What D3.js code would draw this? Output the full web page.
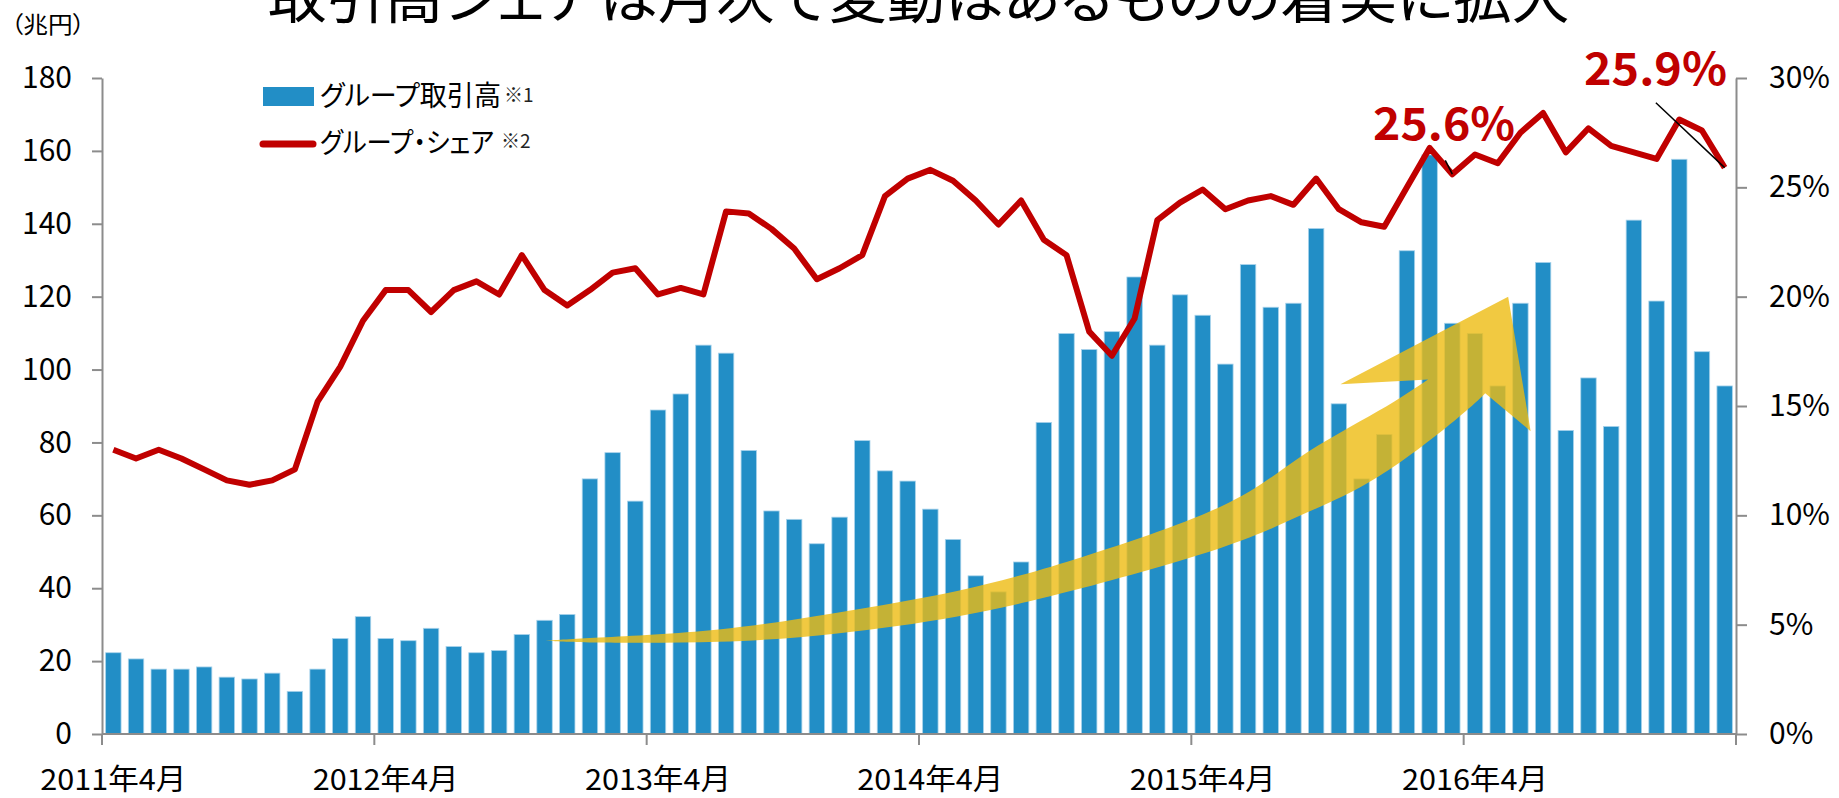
<!DOCTYPE html>
<html>
<head>
<meta charset="utf-8">
<script src="https://cdn.jsdelivr.net/npm/d3@7"></script>
<style>
  body { margin: 0; background: #fff; }
  svg text { font-family: "Noto Sans CJK JP", "Noto Sans", sans-serif; font-feature-settings: "palt"; }
</style>
</head>
<body>
<div id="vis"></div>
<script>
// monthly data, 2011-04 .. 2017-03
var months = d3.timeMonths(new Date(2011, 3, 1), new Date(2017, 3, 1));

// group trading volume (兆円)
var volume = [
  22.3, 20.6, 17.8, 17.8, 18.4, 15.6, 15.1, 16.7, 11.7, 17.8, 26.2, 32.2,
  26.2, 25.6, 29.0, 24.0, 22.3, 22.9, 27.3, 31.2, 32.8, 70.0, 77.2, 63.9,
  88.9, 93.3, 106.7, 104.5, 77.8, 61.2, 58.9, 52.2, 59.5, 80.5, 72.2, 69.4,
  61.7, 53.4, 43.4, 39.0, 47.2, 85.5, 109.9, 105.5, 110.4, 125.4, 106.7, 120.5,
  114.9, 101.5, 128.8, 117.1, 118.2, 138.7, 90.6, 70.0, 82.2, 132.6, 158.9, 112.7,
  109.9, 95.5, 118.2, 129.4, 83.3, 97.7, 84.4, 141.0, 118.8, 157.7, 104.9, 95.5
];

// group share (%)
var share = [
  13.0, 12.6, 13.0, 12.6, 12.1, 11.6, 11.4, 11.6, 12.1, 15.2, 16.8, 18.9,
  20.3, 20.3, 19.3, 20.3, 20.7, 20.1, 21.9, 20.3, 19.6, 20.3, 21.1, 21.3,
  20.1, 20.4, 20.1, 23.9, 23.8, 23.1, 22.2, 20.8, 21.3, 21.9, 24.6, 25.4,
  25.8, 25.3, 24.4, 23.3, 24.4, 22.6, 21.9, 18.4, 17.3, 19.0, 23.5, 24.3,
  24.9, 24.0, 24.4, 24.6, 24.2, 25.4, 24.0, 23.4, 23.2, 25.0, 26.8, 25.6,
  26.5, 26.1, 27.5, 28.4, 26.6, 27.7, 26.9, 26.6, 26.3, 28.1, 27.6, 25.9
];

var xLabels = ["2011年4月", "2012年4月", "2013年4月", "2014年4月", "2015年4月", "2016年4月"];
var volTicks = [0, 20, 40, 60, 80, 100, 120, 140, 160, 180];
var shareTicks = [0, 5, 10, 15, 20, 25, 30];

// callouts: month index, label, start of the leader line [month position, share]
var callouts = [
  {i: 59, text: "25.6%", from: [59.19, 26.23]},
  {i: 71, text: "25.9%", from: [68.47, 28.87]}
];

// yellow arrow outline in data units [month position, 兆円]
var arrowUpper = [[19.55, 25.6], [21.94, 26.5], [27.17, 28.7], [32.39, 33.3], [37.63, 39.2],
  [42.85, 47.9], [49.26, 62.3], [52.75, 75.8], [56.23, 88.6], [58.43, 97.3]];
var arrowHead = [[54.57, 96.0], [61.96, 120.0], [62.95, 83.1]];
var arrowLower = [[60.95, 93.5], [59.71, 86.6], [56.23, 70.6], [52.75, 59.8], [49.26, 51.0],
  [42.85, 39.5], [37.63, 32.2], [32.39, 27.6], [27.17, 25.3], [21.94, 25.1], [19.55, 25.6]];

var W = 1839, H = 798;
var plotLeft = 102, plotRight = 1736, plotTop = 78, plotBottom = 734;

var svg = d3.select("#vis").append("svg")
    .attr("width", W)
    .attr("height", H);

var x = d3.scaleBand().domain(d3.range(months.length))
    .range([plotLeft, plotRight]).paddingInner(0.32).paddingOuter(0.16);
var xm = d3.scaleLinear().domain([0, months.length]).range([plotLeft, plotRight]);
var yVol = d3.scaleLinear().domain([0, 180]).range([plotBottom, plotTop]);
var yShare = d3.scaleLinear().domain([0, 30]).range([plotBottom, plotTop]);

// title (cut off by the top edge)
svg.append("text")
    .attr("x", 268).attr("y", 18)
    .attr("font-size", 57)
    .attr("textLength", 1302).attr("lengthAdjust", "spacingAndGlyphs")
    .text("取引高シェアは月次で変動はあるものの着実に拡大");

svg.append("text")
    .attr("x", 11).attr("y", 33)
    .attr("font-size", 23)
    .attr("textLength", 74).attr("lengthAdjust", "spacingAndGlyphs")
    .text("（兆円）");

// bars
svg.append("g").selectAll("rect")
  .data(volume)
  .enter().append("rect")
    .attr("x", function(d, i) { return x(i); })
    .attr("width", x.bandwidth())
    .attr("y", function(d) { return yVol(d); })
    .attr("height", function(d) { return plotBottom - yVol(d); })
    .attr("fill", "#228EC6")
    .attr("stroke", "#A9D3EB")
    .attr("stroke-width", 0.8);

// arrow
var agen = d3.line()
    .x(function(d) { return xm(d[0]); })
    .y(function(d) { return yVol(d[1]); })
    .curve(d3.curveNatural);
var arrowPath = agen(arrowUpper)
    + arrowHead.map(function(p) { return "L" + xm(p[0]) + "," + yVol(p[1]); }).join("")
    + agen(arrowLower).replace(/^M/, "L") + "Z";
svg.append("path")
    .attr("d", arrowPath)
    .attr("fill", "#EDBB12")
    .attr("fill-opacity", 0.8);

// axes
var axisColor = "#8C8C8C";
var gL = svg.append("g")
    .attr("transform", "translate(" + plotLeft + ",0)")
    .call(d3.axisLeft(yVol).tickValues(volTicks).tickSize(10).tickSizeOuter(0).tickPadding(20));
var gR = svg.append("g")
    .attr("transform", "translate(" + plotRight + ",0)")
    .call(d3.axisRight(yShare).tickValues(shareTicks).tickSize(11).tickSizeOuter(0).tickPadding(22)
      .tickFormat(function(d) { return d + "%"; }));
[gL, gR].forEach(function(g) {
  g.selectAll("path, line").attr("stroke", axisColor).attr("stroke-width", 2);
  g.selectAll("text").attr("font-size", 30).attr("fill", "#000")
    .style("font-family", "'Noto Sans CJK JP', sans-serif");
});

svg.append("line")
    .attr("x1", plotLeft).attr("x2", plotRight)
    .attr("y1", plotBottom).attr("y2", plotBottom)
    .attr("stroke", axisColor).attr("stroke-width", 2);

var gap = (x.step() - x.bandwidth()) / 2;
svg.append("g").selectAll("line")
  .data(d3.range(0, months.length + 1, 12))
  .enter().append("line")
    .attr("x1", function(i) { return i < months.length ? x(i) - gap : plotRight; })
    .attr("x2", function(i) { return i < months.length ? x(i) - gap : plotRight; })
    .attr("y1", plotBottom).attr("y2", plotBottom + 11)
    .attr("stroke", axisColor).attr("stroke-width", 2);

svg.append("g").selectAll("text")
  .data(xLabels)
  .enter().append("text")
    .attr("x", function(d, k) { return x(k * 12) + x.bandwidth() / 2; })
    .attr("y", 790)
    .attr("text-anchor", "middle")
    .attr("font-size", 29)
    .attr("textLength", 146).attr("lengthAdjust", "spacingAndGlyphs")
    .text(function(d) { return d; });

// share line
var line = d3.line()
    .x(function(d, i) { return x(i) + x.bandwidth() / 2; })
    .y(function(d) { return yShare(d); });
svg.append("path")
    .datum(share)
    .attr("d", line)
    .attr("fill", "none")
    .attr("stroke", "#C00000")
    .attr("stroke-width", 6)
    .attr("stroke-linejoin", "round");

// callouts
callouts.forEach(function(c) {
  svg.append("line")
      .attr("x1", xm(c.from[0])).attr("y1", yShare(c.from[1]))
      .attr("x2", x(c.i) + x.bandwidth() / 2).attr("y2", yShare(share[c.i]))
      .attr("stroke", "#000").attr("stroke-width", 1.5);
});
svg.append("text")
    .attr("x", 1373).attr("y", 140)
    .attr("font-size", 44).attr("font-weight", "bold").attr("fill", "#C00000")
    .attr("textLength", 142).attr("lengthAdjust", "spacingAndGlyphs")
    .text(callouts[0].text);
svg.append("text")
    .attr("x", 1584).attr("y", 85)
    .attr("font-size", 44).attr("font-weight", "bold").attr("fill", "#C00000")
    .attr("textLength", 143).attr("lengthAdjust", "spacingAndGlyphs")
    .text(callouts[1].text);

// legend
var lg = svg.append("g");
lg.append("rect").attr("x", 263).attr("y", 87).attr("width", 51).attr("height", 19).attr("fill", "#228EC6");
lg.append("text").attr("x", 320).attr("y", 106).attr("font-size", 28)
    .attr("textLength", 181).attr("lengthAdjust", "spacingAndGlyphs").text("グループ取引高");
lg.append("text").attr("x", 504).attr("y", 102).attr("font-size", 19).attr("fill", "#222").text("※1");
lg.append("line").attr("x1", 263).attr("x2", 313).attr("y1", 144).attr("y2", 144)
    .attr("stroke", "#C00000").attr("stroke-width", 7).attr("stroke-linecap", "round");
lg.append("text").attr("x", 320).attr("y", 153).attr("font-size", 28)
    .attr("textLength", 174).attr("lengthAdjust", "spacingAndGlyphs").text("グループ・シェア");
lg.append("text").attr("x", 501).attr("y", 148).attr("font-size", 19).attr("fill", "#222").text("※2");
</script>
</body>
</html>
